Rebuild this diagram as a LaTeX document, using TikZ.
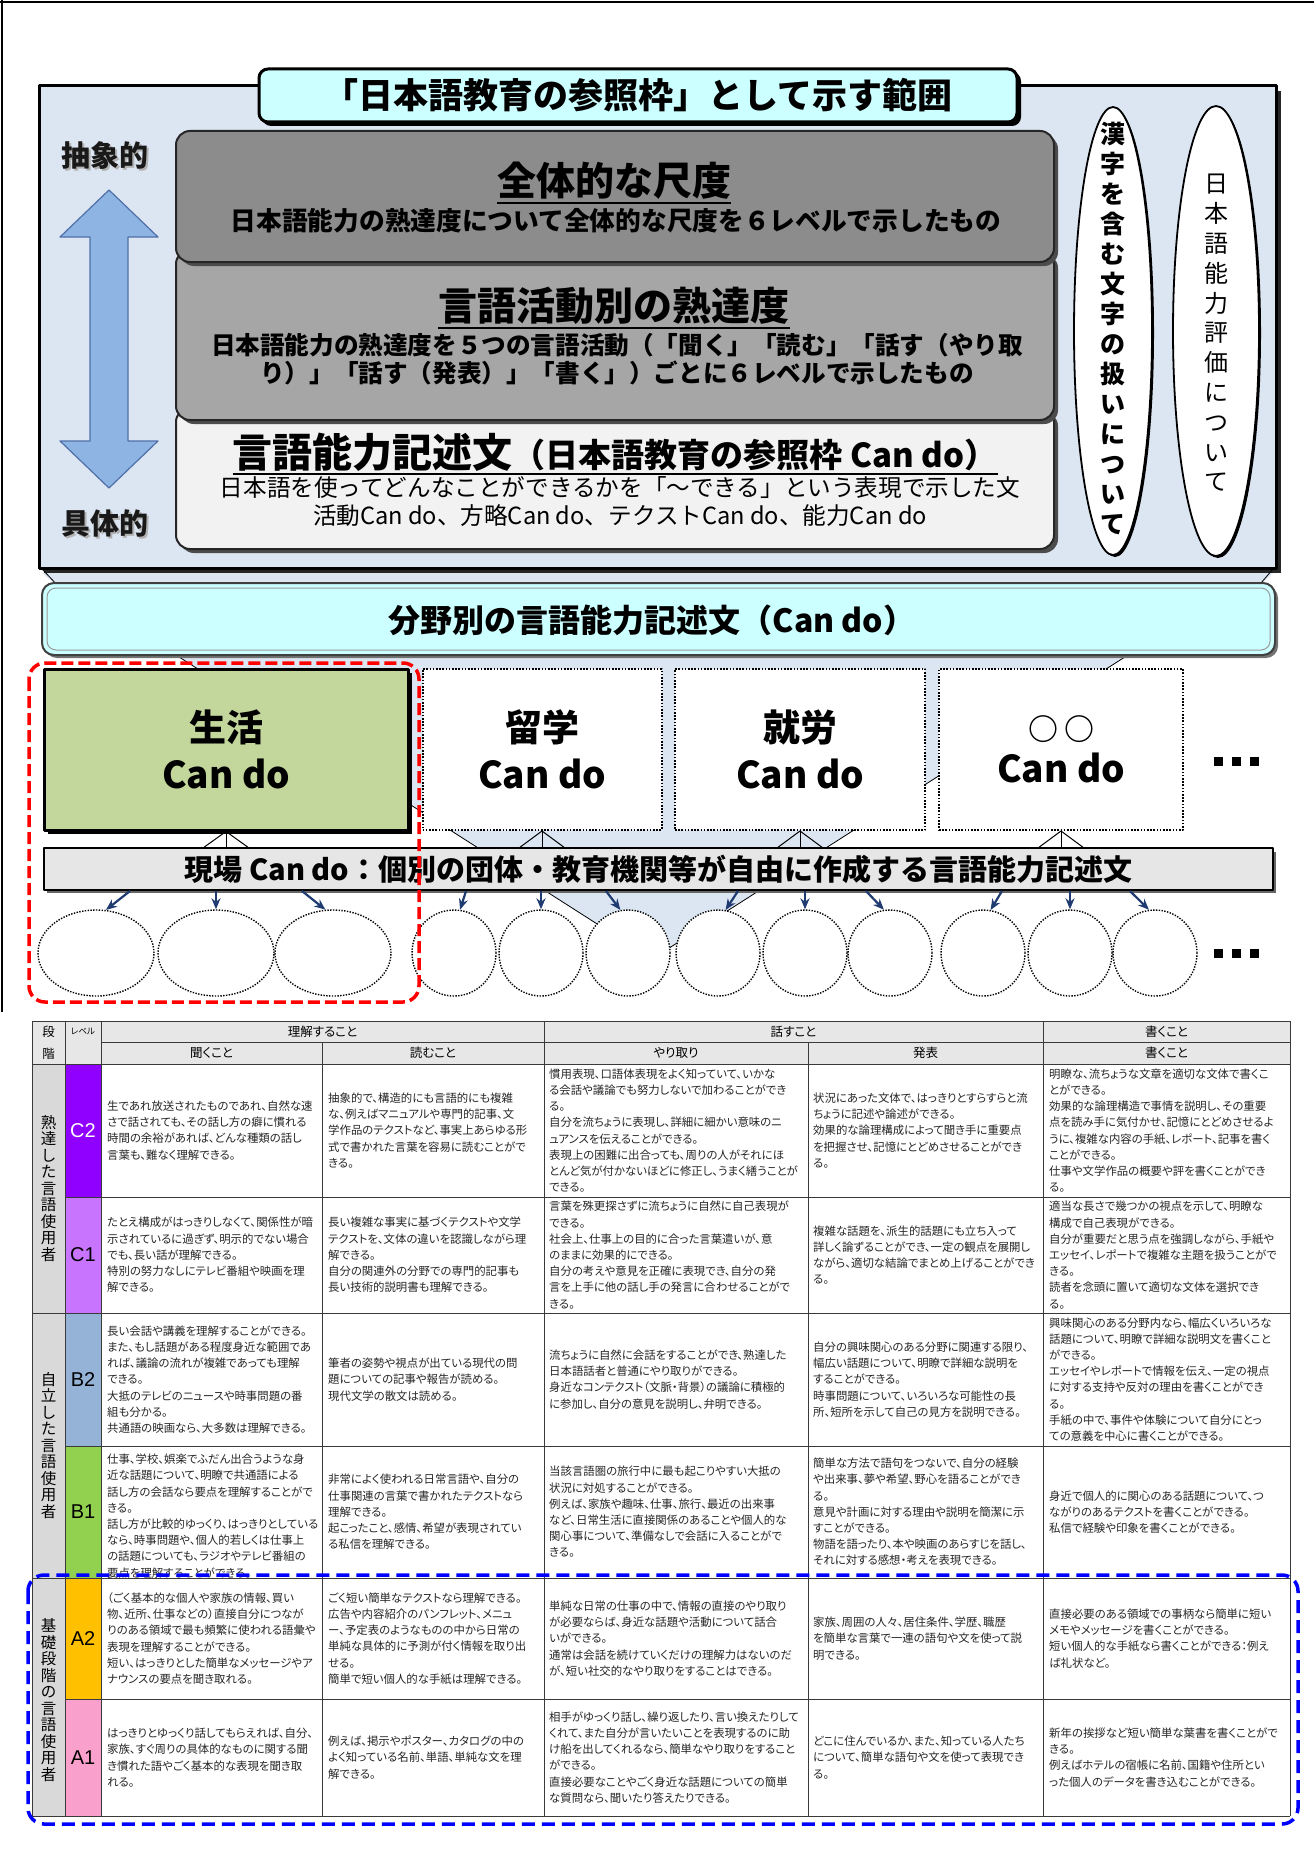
\documentclass[tikz,border=0pt]{standalone}
\usepackage{fontspec}
\setmainfont{Noto Sans CJK JP}
\newfontfamily\jp{Noto Sans CJK JP}[RawFeature=+palt]
\newfontfamily\lat{Liberation Sans}
\usetikzlibrary{shapes.geometric,arrows.meta,calc}
\definecolor{outerblue}{HTML}{DCE6F2}
\definecolor{cyanfill}{HTML}{CCFFFF}
\definecolor{grayA}{HTML}{8C8C8C}
\definecolor{grayB}{HTML}{A6A6A6}
\definecolor{grayC}{HTML}{F2F2F2}
\definecolor{arrowblue}{HTML}{8DB4E2}
\definecolor{arrowedge}{HTML}{4F6FA8}
\definecolor{greenfill}{HTML}{C3D69B}
\definecolor{barfill}{HTML}{E6E6E6}
\definecolor{navy}{HTML}{1F3B70}
\definecolor{hdrfill}{HTML}{E7E7E7}
\definecolor{stagefill}{HTML}{D9D9D9}
\definecolor{lvCtwo}{HTML}{8F00FF}
\definecolor{lvCone}{HTML}{C874FF}
\definecolor{lvBtwo}{HTML}{95B3D7}
\definecolor{lvBone}{HTML}{92D050}
\definecolor{lvAtwo}{HTML}{FFC000}
\definecolor{lvAone}{HTML}{F9A0CC}
\definecolor{gridc}{HTML}{3A3A3A}
\tikzset{
  cell/.style={anchor=west, align=left, inner sep=0pt, font=\jp\fontsize{11.4}{16.2}\selectfont, text=black!85},
  hdr/.style={inner sep=0pt, font=\jp\fontsize{12.5}{14}\selectfont},
  lvl/.style={inner sep=0pt, font=\lat\fontsize{20}{22}\selectfont},
  stage/.style={inner sep=0pt, align=center, font=\fontsize{15.5}{16.5}\selectfont},
  graybox/.style={draw=black!85, line width=2pt, rounded corners=14pt},
  boxtitle/.style={inner sep=0pt, font=\fontsize{39}{44}\selectfont\bfseries},
  dotbox/.style={draw, line width=2pt, dash pattern=on 1.6pt off 1.6pt, fill=white, minimum height=161pt, align=center, inner sep=0pt, font=\fontsize{37}{47}\selectfont\bfseries},
  circ/.style={ellipse, draw, line width=1.4pt, dash pattern=on 1.4pt off 1.4pt, fill=white, inner sep=0pt, minimum height=86pt},
  navyarr/.style={navy, line width=2.2pt, -{Stealth[length=11pt,width=9pt]}},
  tick/.style={line width=1pt},
  grid/.style={gridc, line width=0.8pt}
}
\begin{document}
\begin{tikzpicture}[x=1pt,y=-1pt,line join=round]
\useasboundingbox (0,0) rectangle (1314,1865);
\fill[white] (0,0) rectangle (1314,1865);
% page frame
\draw[line width=1.5pt] (0,2) -- (1314,2);
\draw[line width=1.5pt] (2,0) -- (2,1012);

% outer box
\fill[black!85] (44,91) rectangle (1281,573);
\draw[fill=outerblue, line width=3pt] (39,86) rectangle (1276,568);

% title box
\fill[black, rounded corners=9pt] (262,72) rectangle (1021,126);
\node[draw, line width=3pt, fill=cyanfill, rounded corners=9pt, minimum width=758pt, minimum height=53pt, inner sep=0pt, font=\fontsize{35}{40}\selectfont\bfseries] (title) at (638,95.5) {「日本語教育の参照枠」として示す範囲};

% double arrow
\draw[fill=arrowblue, draw=arrowedge, line width=1.2pt] (109,190) -- (158,237) -- (128,237) -- (128,441) -- (158,441) -- (109,488) -- (60,441) -- (90,441) -- (90,237) -- (60,237) -- cycle;
\node[font=\fontsize{29}{32}\selectfont\bfseries, text=black!30] (abss) at (107,157) {抽象的};
\node[font=\fontsize{29}{32}\selectfont\bfseries, text=black!90] (abs) at (105,155) {抽象的};
\node[font=\fontsize{29}{32}\selectfont\bfseries, text=black!30] (cons) at (107,525) {具体的};
\node[font=\fontsize{29}{32}\selectfont\bfseries, text=black!90] (con) at (105,523) {具体的};

% gray boxes
\fill[black!70, rounded corners=14pt] (180,412) rectangle (1058,553);
\draw[graybox, fill=grayC] (176,408) rectangle (1054,549);
\fill[black!70, rounded corners=14pt] (180,254) rectangle (1058,424);
\draw[graybox, fill=grayB] (176,250) rectangle (1054,420);
\fill[black!70, rounded corners=14pt] (180,135) rectangle (1058,266);
\draw[graybox, fill=grayA] (176,131) rectangle (1054,262);

\node[boxtitle] (tone) at (614,181) {全体的な尺度};
\draw[line width=2pt] ($(tone.south west)+(0,3)$) -- ($(tone.south east)+(0,3)$);
\node[inner sep=0pt, font=\fontsize{25.7}{30}\selectfont\bfseries] (sone) at (616,221) {日本語能力の熟達度について全体的な尺度を６レベルで示したもの};

\node[boxtitle] (ttwo) at (614,306) {言語活動別の熟達度};
\draw[line width=2pt] ($(ttwo.south west)+(0,3)$) -- ($(ttwo.south east)+(0,3)$);
\node[inner sep=0pt, align=center, font=\fontsize{24.6}{28}\selectfont\bfseries] (stwo) at (617,359) {日本語能力の熟達度を５つの言語活動（「聞く」「読む」「話す（やり取\\り）」「話す（発表）」「書く」）ごとに６レベルで示したもの};

\node[inner sep=0pt, font=\bfseries] (tthree) at (615,452) {{\fontsize{40}{44}\selectfont 言語能力記述文}{\fontsize{33}{40}\selectfont （日本語教育の参照枠 Can do）}};
\draw[line width=2pt] ($(tthree.south west)+(0,3)$) -- ($(tthree.south east)+(0,3)$);
\node[inner sep=0pt, align=center, font=\fontsize{23.6}{28}\selectfont] (sthree) at (620,502) {日本語を使ってどんなことができるかを「～できる」という表現で示した文\\活動Can do、方略Can do、テクストCan do、能力Can do};

% right ellipses
\node[ellipse, fill=black, minimum width=78pt, minimum height=448pt, inner sep=0pt] (eones) at (1115,333) {};
\node[ellipse, draw, line width=1.8pt, fill=white, minimum width=78pt, minimum height=448pt, inner sep=0pt] (eone) at (1113,331) {};
\node[inner sep=0pt, align=center, font=\fontsize{25}{30}\selectfont\bfseries] (vone) at (1113,328) {漢\\字\\を\\含\\む\\文\\字\\の\\扱\\い\\に\\つ\\い\\て};
\node[ellipse, fill=black, minimum width=86pt, minimum height=450pt, inner sep=0pt] (etwos) at (1218,333) {};
\node[ellipse, draw, line width=1.8pt, fill=white, minimum width=86pt, minimum height=450pt, inner sep=0pt] (etwo) at (1216,331) {};
\node[inner sep=0pt, align=center, font=\fontsize{24}{29.8}\selectfont] (vtwo) at (1216,333) {日\\本\\語\\能\\力\\評\\価\\に\\つ\\い\\て};

% blue funnel behind
\path[fill=outerblue] (176,655) -- (1128,655) -- (652,959) -- cycle;
\draw[line width=0.8pt] (176,655) -- (652,959) -- (1128,655);
\path[fill=outerblue] (42,573) -- (62,590) -- (1255,590) -- (1273,573) -- cycle;
\draw[line width=0.8pt] (42,569) -- (62,590);
\draw[line width=0.8pt] (1273,569) -- (1255,590);

% bunya box
\fill[black!55, rounded corners=12pt] (45,586) rectangle (1278,658);
\draw[fill=cyanfill, draw=black!75, line width=2pt, rounded corners=12pt] (42,583) rectangle (1275,655);
\draw[black!40, line width=1pt, rounded corners=9pt] (47,588) rectangle (1270,650);
\node[inner sep=0pt, font=\fontsize{32}{36}\selectfont\bfseries] (bunya) at (652,620) {分野別の言語能力記述文（Can do）};

% can do boxes
\fill[black] (48,673) rectangle (412,834);
\node[draw, line width=3pt, fill=greenfill, minimum width=364pt, minimum height=161pt, inner sep=0pt, align=center, font=\fontsize{37}{47}\selectfont\bfseries] (seikatsu) at (226,749.5) {生活\\Can do};
\node[dotbox, minimum width=239pt] (ryugaku) at (542,749.5) {留学\\Can do};
\node[dotbox, minimum width=250pt] (shuro) at (800,749.5) {就労\\Can do};
\node[dotbox, minimum width=244pt, font=\fontsize{37}{42}\selectfont\bfseries] (maru) at (1061,749.5) {{\fontsize{30}{34}\selectfont ○\hspace{6pt}○}\\Can do};
\fill (1214,757) rectangle (1223,766);
\fill (1232,757) rectangle (1241,766);
\fill (1250,757) rectangle (1259,766);

% genba bar
\fill[black!60] (47,852) rectangle (1276,893);
\node[draw, line width=1.5pt, fill=barfill, minimum width=1229pt, minimum height=42pt, inner sep=0pt, font=\fontsize{29}{32}\selectfont\bfseries] (genba) at (658.5,869) {現場 Can do：個別の団体・教育機関等が自由に作成する言語能力記述文};

\foreach \b in {seikatsu,ryugaku,shuro,maru} {
  \draw[tick] ($(\b.south |- genba.north)+(-22,0)$) -- (\b.south) -- ($(\b.south |- genba.north)+(22,0)$);
  \draw[tick] (\b.south) -- (\b.south |- genba.north);
}

% ellipses row
\foreach \i/\x/\w in {1/96/116,2/216/116,3/333/116,4/454/84,5/541/84,6/628/84,7/718/84,8/805/84,9/890/84,10/983/84,11/1070/84,12/1155/84}
  \node[circ, minimum width=\w pt] (c\i) at (\x,953) {};
\fill (1214,949) rectangle (1223,958);
\fill (1232,949) rectangle (1241,958);
\fill (1250,949) rectangle (1259,958);

% arrows bar -> ellipses
\coordinate (aone) at (130,891);  \coordinate (atwo) at (216,891);  \coordinate (athree) at (302,891);
\coordinate (afour) at (466,891); \coordinate (afive) at (541,891); \coordinate (asix) at (606,891);
\coordinate (aseven) at (738,891); \coordinate (aeight) at (805,891); \coordinate (anine) at (866,891);
\coordinate (aten) at (1002,891); \coordinate (aeleven) at (1070,891); \coordinate (atwelve) at (1130,891);
\draw[navyarr] (aone) -- (c1.77);
\draw[navyarr] (atwo) -- (c2.north);
\draw[navyarr] (athree) -- (c3.100);
\draw[navyarr] (afour) -- (c4.82);
\draw[navyarr] (afive) -- (c5.north);
\draw[navyarr] (asix) -- (c6.100);
\draw[navyarr] (aseven) -- (c7.80);
\draw[navyarr] (aeight) -- (c8.north);
\draw[navyarr] (anine) -- (c9.98);
\draw[navyarr] (aten) -- (c10.80);
\draw[navyarr] (aeleven) -- (c11.north);
\draw[navyarr] (atwelve) -- (c12.98);

% red dashed frame
\draw[red, line width=3.5pt, dash pattern=on 12pt off 5pt, rounded corners=16pt] (29,663) rectangle (419,1002);

% ================= TABLE =================
\fill[hdrfill] (32,1021) rectangle (1290,1064);
\fill[stagefill] (32,1064) rectangle (65,1816);
\fill[lvCtwo] (65,1064) rectangle (101,1197);
\fill[lvCone] (65,1197) rectangle (101,1313);
\fill[lvBtwo] (65,1313) rectangle (101,1446);
\fill[lvBone] (65,1446) rectangle (101,1578);
\fill[lvAtwo] (65,1578) rectangle (101,1699);
\fill[lvAone] (65,1699) rectangle (101,1816);
% horizontal lines
\draw[grid] (32,1021) -- (1290,1021);
\draw[grid] (101,1042) -- (1290,1042);
\draw[grid] (32,1064) -- (1290,1064);
\draw[grid] (65,1197) -- (1290,1197);
\draw[grid] (32,1313) -- (1290,1313);
\draw[grid] (65,1446) -- (1290,1446);
\draw[grid] (32,1578) -- (1290,1578);
\draw[grid] (65,1699) -- (1290,1699);
\draw[grid] (32,1816) -- (1290,1816);
% vertical lines
\draw[grid] (32,1021) -- (32,1816);
\draw[grid] (65,1021) -- (65,1816);
\draw[grid] (101,1021) -- (101,1816);
\draw[grid] (322,1042) -- (322,1816);
\draw[grid] (544,1021) -- (544,1816);
\draw[grid] (808,1042) -- (808,1816);
\draw[grid] (1043,1021) -- (1043,1816);
\draw[grid] (1290,1021) -- (1290,1816);

% header texts
\node[hdr, align=center, font=\jp\fontsize{12.5}{21.5}\selectfont] (hdan) at (48.5,1042.5) {段\\階};
\node[hdr, font=\jp\fontsize{8.5}{10}\selectfont] (hlevel) at (83,1031.5) {レベル};
\node[hdr] (hrikai) at (322.5,1031.5) {理解すること};
\node[hdr] (hhanasu) at (793.5,1031.5) {話すこと};
\node[hdr] (hkaku) at (1166.5,1031.5) {書くこと};
\node[hdr] (hkiku) at (211.5,1053) {聞くこと};
\node[hdr] (hyomu) at (433,1053) {読むこと};
\node[hdr] (hyari) at (676,1053) {やり取り};
\node[hdr] (hhap) at (925.5,1053) {発表};
\node[hdr] (hkakub) at (1166.5,1053) {書くこと};

% stage texts
\node[stage] (stC) at (48.5,1188.5) {熟\\達\\し\\た\\言\\語\\使\\用\\者};
\node[stage] (stB) at (48.5,1445.5) {自\\立\\し\\た\\言\\語\\使\\用\\者};
\node[stage] (stA) at (48.5,1700) {基\\礎\\段\\階\\の\\言\\語\\使\\用\\者};

% level labels
\node[lvl, text=white] (lCtwo) at (83,1130.5) {C2};
\node[lvl] (lCone) at (83,1255) {C1};
\node[lvl] (lBtwo) at (83,1379.5) {B2};
\node[lvl] (lBone) at (83,1512) {B1};
\node[lvl] (lAtwo) at (83,1638.5) {A2};
\node[lvl] (lAone) at (83,1757.5) {A1};

% C2
\node[cell] (kC2) at (107,1130.5) {生であれ放送されたものであれ、自然な速\\さで話されても、その話し方の癖に慣れる\\時間の余裕があれば、どんな種類の話し\\言葉も、難なく理解できる。};
\node[cell] (yC2) at (328,1130.5) {抽象的で、構造的にも言語的にも複雑\\な、例えばマニュアルや専門的記事、文\\学作品のテクストなど、事実上あらゆる形\\式で書かれた言葉を容易に読むことがで\\きる。};
\node[cell] (rC2) at (549,1130.5) {慣用表現、口語体表現をよく知っていて、いかな\\る会話や議論でも努力しないで加わることができ\\る。\\自分を流ちょうに表現し、詳細に細かい意味のニ\\ュアンスを伝えることができる。\\表現上の困難に出合っても、周りの人がそれにほ\\とんど気が付かないほどに修正し、うまく繕うことが\\できる。};
\node[cell] (hC2) at (813,1130.5) {状況にあった文体で、はっきりとすらすらと流\\ちょうに記述や論述ができる。\\効果的な論理構成によって聞き手に重要点\\を把握させ、記憶にとどめさせることができ\\る。};
\node[cell] (wC2) at (1049,1130.5) {明瞭な、流ちょうな文章を適切な文体で書くこ\\とができる。\\効果的な論理構造で事情を説明し、その重要\\点を読み手に気付かせ、記憶にとどめさせるよ\\うに、複雑な内容の手紙、レポート、記事を書く\\ことができる。\\仕事や文学作品の概要や評を書くことができ\\る。};
% C1
\node[cell] (kC1) at (107,1255) {たとえ構成がはっきりしなくて、関係性が暗\\示されているに過ぎず、明示的でない場合\\でも、長い話が理解できる。\\特別の努力なしにテレビ番組や映画を理\\解できる。};
\node[cell] (yC1) at (328,1255) {長い複雑な事実に基づくテクストや文学\\テクストを、文体の違いを認識しながら理\\解できる。\\自分の関連外の分野での専門的記事も\\長い技術的説明書も理解できる。};
\node[cell] (rC1) at (549,1255) {言葉を殊更探さずに流ちょうに自然に自己表現が\\できる。\\社会上、仕事上の目的に合った言葉遣いが、意\\のままに効果的にできる。\\自分の考えや意見を正確に表現でき、自分の発\\言を上手に他の話し手の発言に合わせることがで\\きる。};
\node[cell] (hC1) at (813,1255) {複雑な話題を、派生的話題にも立ち入って\\詳しく論ずることができ、一定の観点を展開し\\ながら、適切な結論でまとめ上げることができ\\る。};
\node[cell] (wC1) at (1049,1255) {適当な長さで幾つかの視点を示して、明瞭な\\構成で自己表現ができる。\\自分が重要だと思う点を強調しながら、手紙や\\エッセイ、レポートで複雑な主題を扱うことがで\\きる。\\読者を念頭に置いて適切な文体を選択でき\\る。};
% B2
\node[cell] (kB2) at (107,1379.5) {長い会話や講義を理解することができる。\\また、もし話題がある程度身近な範囲であ\\れば、議論の流れが複雑であっても理解\\できる。\\大抵のテレビのニュースや時事問題の番\\組も分かる。\\共通語の映画なら、大多数は理解できる。};
\node[cell] (yB2) at (328,1379.5) {筆者の姿勢や視点が出ている現代の問\\題についての記事や報告が読める。\\現代文学の散文は読める。};
\node[cell] (rB2) at (549,1379.5) {流ちょうに自然に会話をすることができ、熟達した\\日本語話者と普通にやり取りができる。\\身近なコンテクスト（文脈・背景）の議論に積極的\\に参加し、自分の意見を説明し、弁明できる。};
\node[cell] (hB2) at (813,1379.5) {自分の興味関心のある分野に関連する限り、\\幅広い話題について、明瞭で詳細な説明を\\することができる。\\時事問題について、いろいろな可能性の長\\所、短所を示して自己の見方を説明できる。};
\node[cell] (wB2) at (1049,1379.5) {興味関心のある分野内なら、幅広くいろいろな\\話題について、明瞭で詳細な説明文を書くこと\\ができる。\\エッセイやレポートで情報を伝え、一定の視点\\に対する支持や反対の理由を書くことができ\\る。\\手紙の中で、事件や体験について自分にとっ\\ての意義を中心に書くことができる。};
% B1
\node[cell] (kB1) at (107,1516) {仕事、学校、娯楽でふだん出合うような身\\近な話題について、明瞭で共通語による\\話し方の会話なら要点を理解することがで\\きる。\\話し方が比較的ゆっくり、はっきりとしている\\なら、時事問題や、個人的若しくは仕事上\\の話題についても、ラジオやテレビ番組の\\要点を理解することができる。};
\node[cell] (yB1) at (328,1512) {非常によく使われる日常言語や、自分の\\仕事関連の言葉で書かれたテクストなら\\理解できる。\\起こったこと、感情、希望が表現されてい\\る私信を理解できる。};
\node[cell] (rB1) at (549,1512) {当該言語圏の旅行中に最も起こりやすい大抵の\\状況に対処することができる。\\例えば、家族や趣味、仕事、旅行、最近の出来事\\など、日常生活に直接関係のあることや個人的な\\関心事について、準備なしで会話に入ることがで\\きる。};
\node[cell] (hB1) at (813,1512) {簡単な方法で語句をつないで、自分の経験\\や出来事、夢や希望、野心を語ることができ\\る。\\意見や計画に対する理由や説明を簡潔に示\\すことができる。\\物語を語ったり、本や映画のあらすじを話し、\\それに対する感想・考えを表現できる。};
\node[cell] (wB1) at (1049,1512) {身近で個人的に関心のある話題について、つ\\ながりのあるテクストを書くことができる。\\私信で経験や印象を書くことができる。};
% A2
\node[cell] (kA2) at (107,1638.5) {（ごく基本的な個人や家族の情報、買い\\物、近所、仕事などの）直接自分につなが\\りのある領域で最も頻繁に使われる語彙や\\表現を理解することができる。\\短い、はっきりとした簡単なメッセージやア\\ナウンスの要点を聞き取れる。};
\node[cell] (yA2) at (328,1638.5) {ごく短い簡単なテクストなら理解できる。\\広告や内容紹介のパンフレット、メニュ\\ー、予定表のようなものの中から日常の\\単純な具体的に予測が付く情報を取り出\\せる。\\簡単で短い個人的な手紙は理解できる。};
\node[cell] (rA2) at (549,1638.5) {単純な日常の仕事の中で、情報の直接のやり取り\\が必要ならば、身近な話題や活動について話合\\いができる。\\通常は会話を続けていくだけの理解力はないのだ\\が、短い社交的なやり取りをすることはできる。};
\node[cell] (hA2) at (813,1638.5) {家族、周囲の人々、居住条件、学歴、職歴\\を簡単な言葉で一連の語句や文を使って説\\明できる。};
\node[cell] (wA2) at (1049,1638.5) {直接必要のある領域での事柄なら簡単に短い\\メモやメッセージを書くことができる。\\短い個人的な手紙なら書くことができる：例え\\ば礼状など。};
% A1
\node[cell] (kA1) at (107,1757.5) {はっきりとゆっくり話してもらえれば、自分、\\家族、すぐ周りの具体的なものに関する聞\\き慣れた語やごく基本的な表現を聞き取\\れる。};
\node[cell] (yA1) at (328,1757.5) {例えば、掲示やポスター、カタログの中の\\よく知っている名前、単語、単純な文を理\\解できる。};
\node[cell] (rA1) at (549,1757.5) {相手がゆっくり話し、繰り返したり、言い換えたりして\\くれて、また自分が言いたいことを表現するのに助\\け船を出してくれるなら、簡単なやり取りをすること\\ができる。\\直接必要なことやごく身近な話題についての簡単\\な質問なら、聞いたり答えたりできる。};
\node[cell] (hA1) at (813,1757.5) {どこに住んでいるか、また、知っている人たち\\について、簡単な語句や文を使って表現でき\\る。};
\node[cell] (wA1) at (1049,1757.5) {新年の挨拶など短い簡単な葉書を書くことがで\\きる。\\例えばホテルの宿帳に名前、国籍や住所とい\\った個人のデータを書き込むことができる。};

% blue dashed frame
\draw[blue, line width=3.5pt, dash pattern=on 13pt off 7pt, rounded corners=16pt] (28,1575) rectangle (1298,1824);
\end{tikzpicture}
\end{document}
